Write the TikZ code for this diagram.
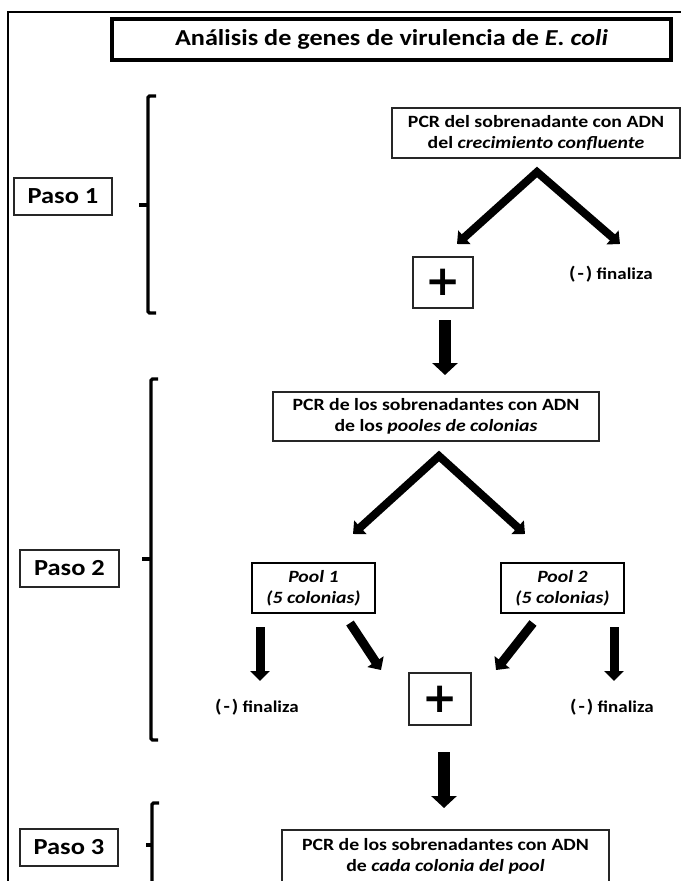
\documentclass[tikz,border=0pt]{standalone}
\usepackage{fontspec}
\setmainfont{Carlito}[FakeStretch=1.15]
\newfontfamily\plusfont{DejaVu Sans}
\usetikzlibrary{arrows.meta,shadows}
\newcommand{\negsign}{{\fontsize{18bp}{18bp}\selectfont(\kern2bp-\kern2bp)}}
\begin{document}
\begin{tikzpicture}[x=1bp,y=-1bp,
  box/.style={draw=black!85, line width=1.2bp, fill=white, inner sep=0pt, align=center,
    font=\bfseries\fontsize{17.2bp}{21bp}\selectfont},
  titlebox/.style={draw=black, line width=3.8bp, fill=white, inner sep=0pt,
    drop shadow={opacity=0.25, shadow xshift=1bp, shadow yshift=-2bp},
    font=\bfseries\fontsize{22.8bp}{26bp}\selectfont},
  pasobox/.style={box, font=\bfseries\fontsize{23bp}{25bp}\selectfont},
  plusbox/.style={box, font=\plusfont\bfseries\fontsize{42bp}{42bp}\selectfont},
  poolbox/.style={box, line width=1.5bp, draw=black, font=\bfseries\itshape\fontsize{17.2bp}{21bp}\selectfont},
  negtext/.style={inner sep=0pt, anchor=west, font=\bfseries\fontsize{16.5bp}{18bp}\selectfont},
  bracket/.style={line width=3.2bp, rounded corners=1.5bp},
  bigarrow/.style={line width=12.5bp, -{Triangle[width=25bp,length=12bp]}},
  chevron/.style={line width=8bp, line join=miter, {Triangle[width=18bp,length=10bp]}-{Triangle[width=18bp,length=10bp]}},
  smallarrow/.style={line width=9bp, -{Triangle[width=19bp,length=10bp]}}
]
\clip (0,0) rectangle (681,881);
\fill[white] (0,0) rectangle (681,881);

% outer frame
\draw[line width=2bp] (8,900) -- (8,12) -- (700,12);

% title
\node[titlebox, minimum width=559bp, minimum height=41bp] (title) at (391.5,39.5)
  {Análisis de genes de virulencia de \textit{E. coli}};

% step labels
\node[pasobox, minimum width=98bp, minimum height=37bp] (paso1) at (63,196.5) {Paso 1};
\node[pasobox, minimum width=99bp, minimum height=37bp] (paso2) at (69.5,568.5) {Paso 2};
\node[pasobox, minimum width=98bp, minimum height=37bp] (paso3) at (69,847.5) {Paso 3};

% brackets
\draw[bracket] (156,96) -- (148,96) -- (148,313) -- (156,313);
\draw[bracket] (148,205) -- (139,205);
\draw[bracket] (158,379) -- (151,379) -- (151,740) -- (158,740);
\draw[bracket] (151,559) -- (142,559);
\draw[bracket] (159,803) -- (152,803) -- (152,900);
\draw[bracket] (152,845) -- (146,845);

% step 1
\node[box, minimum width=288bp, minimum height=50bp] (pcr1) at (536,133)
  {PCR del sobrenadante con ADN\\del \textit{crecimiento confluente}};
\node[plusbox, minimum width=60bp, minimum height=51bp] (plus1) at (443,282.5) {+};
\node[negtext] (neg1) at (569,274) {\negsign\ finaliza};

\coordinate (c1l) at (457,244);
\coordinate (c1a) at (537,172);
\coordinate (c1r) at (620,244);
\draw[chevron] (c1l) -- (c1a) -- (c1r);

\coordinate (d1s) at (445,320);
\coordinate (d1e) at (445,375);
\draw[bigarrow] (d1s) -- (d1e);

% step 2
\node[box, minimum width=326bp, minimum height=49bp] (pcr2) at (436,416.5)
  {PCR de los sobrenadantes con ADN\\de los \textit{pooles de colonias}};

\coordinate (c2l) at (353,534);
\coordinate (c2a) at (439,456);
\coordinate (c2r) at (525,534);
\draw[chevron] (c2l) -- (c2a) -- (c2r);

\node[poolbox, minimum width=123bp, minimum height=50bp] (pool1) at (313.5,588)
  {Pool 1\\(5 colonias)};
\node[poolbox, minimum width=123bp, minimum height=50bp] (pool2) at (562.5,588)
  {Pool 2\\(5 colonias)};

\node[plusbox, minimum width=62bp, minimum height=52bp] (plus2) at (440,699) {+};
\node[negtext] (neg2) at (215,707) {\negsign\ finaliza};
\node[negtext] (neg3) at (570,707) {\negsign\ finaliza};

\coordinate (p1d) at (260,627);
\coordinate (p1de) at (260,681);
\coordinate (p1g) at (350,623);
\coordinate (p1ge) at (381,670);
\coordinate (p2g) at (533,623);
\coordinate (p2ge) at (496,670);
\coordinate (p2d) at (614,627);
\coordinate (p2de) at (614,681);
\draw[smallarrow] (p1d) -- (p1de);
\draw[smallarrow] (p1g) -- (p1ge);
\draw[smallarrow] (p2g) -- (p2ge);
\draw[smallarrow] (p2d) -- (p2de);

\coordinate (d2s) at (444,752);
\coordinate (d2e) at (444,808);
\draw[bigarrow] (d2s) -- (d2e);

% step 3
\node[box, minimum width=327bp, minimum height=52bp] (pcr3) at (445.5,856)
  {PCR de los sobrenadantes con ADN\\de \textit{cada colonia del pool}};
\end{tikzpicture}
\end{document}
